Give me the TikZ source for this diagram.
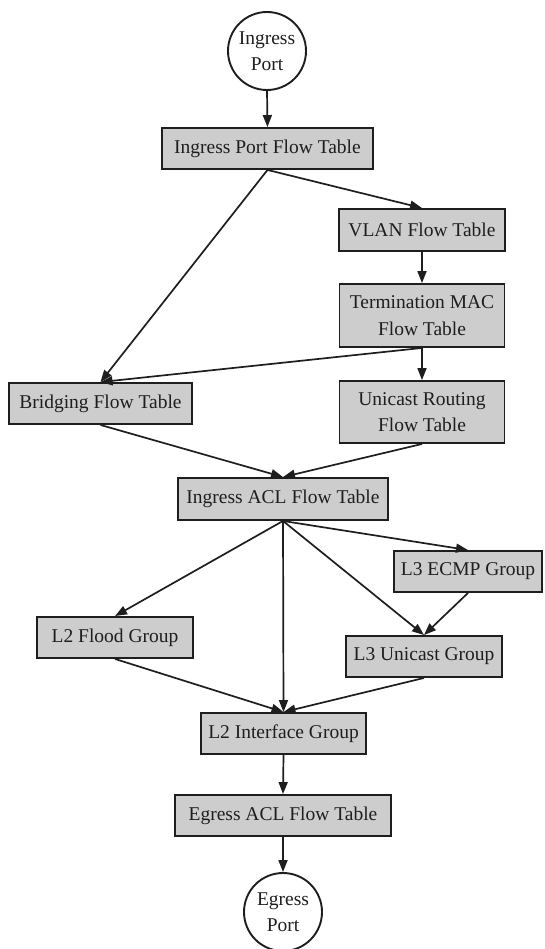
\documentclass[tikz,border=0pt]{standalone}
\usepackage{fontspec}
\setmainfont{Liberation Serif}
\usetikzlibrary{arrows.meta}
\definecolor{boxfill}{RGB}{205,205,205}
\definecolor{ink}{RGB}{30,30,30}
\begin{document}
\begin{tikzpicture}[x=1pt,y=-1pt,
  font=\fontsize{19.5}{26.5}\selectfont,
  tbl/.style={draw=ink, line width=1.9pt, fill=boxfill, rectangle, inner sep=0pt, minimum height=41pt, text=ink, align=center},
  port/.style={draw=ink, line width=1.9pt, fill=white, circle, inner sep=0pt, minimum size=78pt, text=ink, align=center},
  flow/.style={draw=ink, line width=1.7pt, -{Triangle[length=12pt,width=9pt]}}]
\useasboundingbox (0,0) rectangle (544,949);
\node[port] (ip) at (267,51) {Ingress\\Port};
\node[tbl, minimum width=211pt] (ipft) at (267.5,148.5) {Ingress Port Flow Table};
\node[tbl, minimum width=166pt, minimum height=42pt] (vlan) at (422,230) {VLAN Flow Table};
\node[tbl, minimum width=165pt, minimum height=63pt] (tmac) at (422,315.5) {Termination MAC\\Flow Table};
\node[tbl, minimum width=183pt] (brg) at (100.5,403.5) {Bridging Flow Table};
\node[tbl, minimum width=165pt, minimum height=62pt] (ur) at (422,412) {Unicast Routing\\Flow Table};
\node[tbl, minimum width=210pt, minimum height=42pt] (iacl) at (283,499) {Ingress ACL Flow Table};
\node[tbl, minimum width=148pt] (ecmp) at (468,571.5) {L3 ECMP Group};
\node[tbl, minimum width=156pt] (l2f) at (115,637.5) {L2 Flood Group};
\node[tbl, minimum width=156pt] (l3u) at (424,656.5) {L3 Unicast Group};
\node[tbl, minimum width=165pt] (l2if) at (283.5,733.5) {L2 Interface Group};
\node[tbl, minimum width=216pt] (eacl) at (283,815.5) {Egress ACL Flow Table};
\node[port] (ep) at (283,912) {Egress\\Port};
\draw[flow] (ip.south) -- (ipft.north);
\draw[flow] (ipft.south) -- (vlan.north);
\draw[flow] (ipft.south) -- (brg.north);
\draw[flow] (vlan.south) -- (tmac.north);
\draw[flow] (tmac.south) -- (brg.north);
\draw[flow] (tmac.south) -- (ur.north);
\draw[flow] (brg.south) -- (iacl.north);
\draw[flow] (ur.south) -- (iacl.north);
\draw[flow] (iacl.south) -- (ecmp.north);
\draw[flow] (iacl.south) -- (l2f.north);
\draw[flow] (iacl.south) -- (l3u.north);
\draw[flow] (iacl.south) -- (l2if.north);
\draw[flow] (ecmp.south) -- (l3u.north);
\draw[flow] (l2f.south) -- (l2if.north);
\draw[flow] (l3u.south) -- (l2if.north);
\draw[flow] (l2if.south) -- (eacl.north);
\draw[flow] (eacl.south) -- (ep.north);
\end{tikzpicture}
\end{document}
